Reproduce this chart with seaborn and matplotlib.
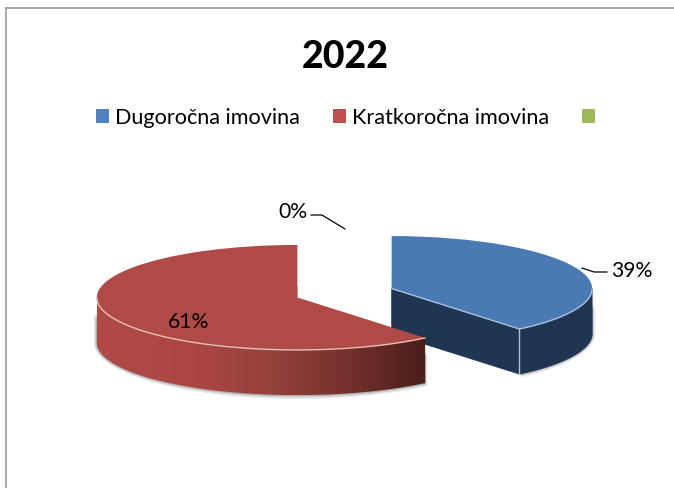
import numpy as np
import matplotlib
matplotlib.use("Agg")
import matplotlib.pyplot as plt
from matplotlib.patches import Patch, Polygon
from matplotlib.lines import Line2D
from matplotlib.colors import LinearSegmentedColormap
import seaborn as sns

title = "2022"
categories = ["Dugoročna imovina", "Kratkoročna imovina", ""]
values = [39, 61, 0]
pct_labels = ["39%", "61%", "0%"]

W, H = 674, 488
# pie centre and squash, in pixels
CX, CY = 344.5, 293
RX, RY = 200.5, 52.5
DEPTH = 0.86
EXPLODE = 0.25

sns.set_theme(style="white")
plt.rcParams["font.family"] = ["Lato", "DejaVu Sans"]

legend_colors = sns.color_palette(["#4F81BD", "#C0504D", "#9BBB59"])
top_colors = ["#4A7AB4", "#B04A46", "#9BBB59"]
edge_colors = ["#A9C1DE", "#E8BDB8", "#9BBB59"]
blue_side = "#1F3552"
red_side = LinearSegmentedColormap.from_list(
    "red_side", ["#B04A46", "#AC4642", "#92403B", "#722F2B", "#4A1F1A"])


def px(x, y):
    # pixel position to pie units
    return (x - CX) / RX, (CY - y) / RY


fig = plt.figure(figsize=(W / 100, H / 100), dpi=100)
ax = fig.add_axes([0, 0, 1, 1])

# slice angles from the data, clockwise from 12 o'clock
fracs = np.array(values) / sum(values)
ends = 90 - 360 * np.cumsum(fracs)
starts = ends + 360 * fracs
mids = (starts + ends) / 2
offs = [(EXPLODE * np.cos(np.radians(m)), EXPLODE * np.sin(np.radians(m))) for m in mids]


def arc(i, a, b, n=120):
    th = np.radians(np.linspace(a, b, n))
    return offs[i][0] + np.cos(th), offs[i][1] + np.sin(th)


def wall_outline(i, a, b):
    xs, ys = arc(i, a, b)
    return np.column_stack([np.r_[xs, xs[::-1]], np.r_[ys, ys[::-1] - DEPTH]])


# soft shadow under the solid
for i, (a, b) in enumerate([(ends[0], 0), (-180, ends[0])]):
    th = np.radians(np.linspace(a, b, 90))
    for grow, alpha in [(0.015, 0.18), (0.009, 0.3), (0.004, 0.45)]:
        sx = offs[i][0] + (1 + grow) * np.cos(th)
        sy = offs[i][1] + (1 + grow * 5) * np.sin(th) - DEPTH
        ax.fill(np.r_[sx, sx[::-1]], np.r_[sy, sy[::-1] + 0.6], color="#8A8A8A",
                alpha=alpha, lw=0, zorder=1)

# blue wall and cut face
ax.add_patch(Polygon(wall_outline(0, ends[0], 0), color=blue_side, lw=0.5, zorder=2))
ox, oy = offs[0]
tx, ty = ox + np.cos(np.radians(ends[0])), oy + np.sin(np.radians(ends[0]))
ax.fill([ox, tx, tx, ox], [oy, ty, ty - DEPTH, oy - DEPTH], color=blue_side, lw=0.5, zorder=2)
ax.plot([tx, tx], [ty, ty - DEPTH], color=edge_colors[0], lw=1, zorder=3)
ax.plot([ox, ox], [oy, oy + 0.2], color="#BDBDBD", lw=1, zorder=1)

# red wall, darkening to the right
rx, ry = offs[1]
x0, x1 = rx - 1, rx + np.cos(np.radians(ends[0]))
grad = np.linspace(0, 1, 256).reshape(1, -1) ** 1.15
im = ax.imshow(grad, cmap=red_side, aspect="auto", zorder=3,
               extent=[x0, x1, ry - 1 - DEPTH, ry + 0.2])
clip = Polygon(wall_outline(1, -180, ends[0]), transform=ax.transData, fc="none", ec="none")
ax.add_patch(clip)
im.set_clip_path(clip)
ax.plot([rx, rx], [ry + 0.02, ry + 0.2], color="#BDBDBD", lw=1.5, zorder=1)

# top faces
wedges, _ = ax.pie(values, colors=top_colors, startangle=90, counterclock=False,
                   explode=[EXPLODE] * len(values), radius=1, frame=True,
                   wedgeprops={"linewidth": 0})
for i, w in enumerate(wedges):
    w.set_zorder(5 + i)
    if values[i] == 0:
        w.set_visible(False)

# light rim on the front of the top faces
xs, ys = arc(0, ends[0], 0)
ax.plot(xs, ys, color=edge_colors[0], lw=1, zorder=8)
ax.plot([ox, tx], [oy, ty], color=edge_colors[0], lw=1, zorder=8)
xs, ys = arc(1, -180, ends[0])
ax.plot(xs, ys, color=edge_colors[1], lw=1, zorder=8)

ax.set_aspect("auto")
ax.set_xlim(px(0, 0)[0], px(W, 0)[0])
ax.set_ylim(px(0, H)[1], px(0, 0)[1])
ax.axis("off")

# chart border, top and left only
fig.add_artist(Line2D([5.5 / W, 5.5 / W], [0, 1 - 8 / H], color="#9A9A9A", lw=1.2))
fig.add_artist(Line2D([5.5 / W, 1], [1 - 8 / H, 1 - 8 / H], color="#9A9A9A", lw=1.2))

# labels and leader lines
ax.text(*px(632, 271), pct_labels[0], ha="center", va="center", fontsize=15.2, color="black", zorder=10)
ax.text(*px(188.5, 322), pct_labels[1], ha="center", va="center", fontsize=15.2, color="black", zorder=10)
ax.text(*px(292.5, 212), pct_labels[2], ha="center", va="center", fontsize=15.2, color="black", zorder=10)
for pts in ([(582, 268), (594, 272), (607, 272)], [(345, 229), (322, 215), (311, 215)]):
    xy = np.array([px(*p) for p in pts])
    ax.plot(xy[:, 0], xy[:, 1], color="black", lw=0.9, zorder=10)

fig.text(345 / W, 1 - 57 / H, title, ha="center", va="center", fontsize=27, fontweight="black", color="black")

handles = [Patch(facecolor=c, edgecolor="none") for c in legend_colors]
fig.legend(handles, categories, loc="center", bbox_to_anchor=(348.5 / W, 1 - 118 / H), ncol=3,
           frameon=False, fontsize=15.6, handlelength=0.6, handleheight=0.6,
           handletextpad=0.28, columnspacing=1.5, labelcolor="black")

fig.savefig("out.png", dpi=100)
plt.close(fig)
